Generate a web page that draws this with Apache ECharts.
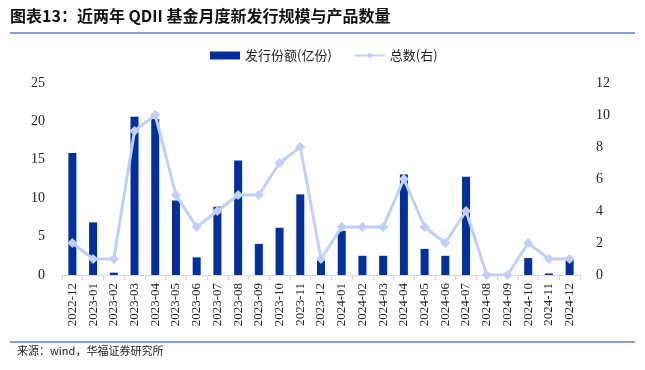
<!DOCTYPE html>
<html><head><meta charset="utf-8">
<script src="https://cdn.jsdelivr.net/npm/echarts@6/dist/echarts.min.js"></script>
<style>html,body{margin:0;padding:0;background:#fff;}#c{width:645px;height:370px;}</style>
</head><body><div id="c"></div>
<script>
const categories = ['2022-12','2023-01','2023-02','2023-03','2023-04','2023-05','2023-06','2023-07','2023-08','2023-09','2023-10','2023-11','2023-12','2024-01','2024-02','2024-03','2024-04','2024-05','2024-06','2024-07','2024-08','2024-09','2024-10','2024-11','2024-12'];
const issueShares = [15.9,6.85,0.3,20.6,20.3,9.7,2.3,8.9,14.9,4.05,6.15,10.5,1.9,5.75,2.5,2.5,13.1,3.4,2.5,12.8,0,0,2.2,0.2,2.05];
const productCount = [2,1,1,9,10,5,3,4,5,5,7,8,1,3,3,3,6,3,2,4,0,0,2,1,1];
const leftTicks = [0,5,10,15,20,25];
const rightTicks = [0,2,4,6,8,10,12];
const title = '图表13：近两年 QDII 基金月度新发行规模与产品数量';
const source = '来源：wind，华福证券研究所';

const chart = echarts.init(document.getElementById('c'));
const serif = '"Liberation Serif","Times New Roman",serif';
const cjk = '"Noto Sans CJK SC",sans-serif';
chart.setOption({
  animation:false,
  backgroundColor:'#fff',
  graphic:[
    {type:'text',left:10,top:8,style:{text:title,font:'bold 16px '+cjk,fill:'#111'}},
    {type:'line',shape:{x1:10,y1:33,x2:635,y2:33},style:{stroke:'#5b7fc7',lineWidth:1.5}},
    {type:'line',shape:{x1:10,y1:342,x2:635,y2:342},style:{stroke:'#5b7fc7',lineWidth:1.5}},
    {type:'text',left:17,top:345,style:{text:source,font:'11px '+cjk,fill:'#222'}}
  ],
  legend:{
    top:44,left:205,itemGap:22,itemWidth:30,itemHeight:8,
    textStyle:{fontFamily:cjk,fontSize:13,color:'#222'},
    data:[{name:'发行份额(亿份)',icon:'rect'},{name:'总数(右)'}]
  },
  grid:{left:62,right:65,top:83,bottom:95},
  xAxis:{
    type:'category',data:categories,
    axisLine:{lineStyle:{color:'#d9d9d9'}},
    axisTick:{show:true,length:5,lineStyle:{color:'#d9d9d9'}},
    axisLabel:{rotate:90,fontFamily:serif,fontSize:13,color:'#222',margin:8,interval:0}
  },
  yAxis:[
    {type:'value',min:0,max:25,interval:5,
     axisLine:{show:false},axisTick:{show:false},splitLine:{show:false},
     axisLabel:{fontFamily:serif,fontSize:14,color:'#222',margin:17}},
    {type:'value',min:0,max:12,interval:2,
     axisLine:{show:false},axisTick:{show:false},splitLine:{show:false},
     axisLabel:{fontFamily:serif,fontSize:14,color:'#222',margin:16}}
  ],
  series:[
    {name:'发行份额(亿份)',type:'bar',data:issueShares,barWidth:8,
     itemStyle:{color:'#0030a0'}},
    {name:'总数(右)',type:'line',yAxisIndex:1,data:productCount,
     symbol:'diamond',symbolSize:10,
     lineStyle:{color:'#c0d0fc',width:3},itemStyle:{color:'#c0d0fc'}}
  ]
});
</script></body></html>
